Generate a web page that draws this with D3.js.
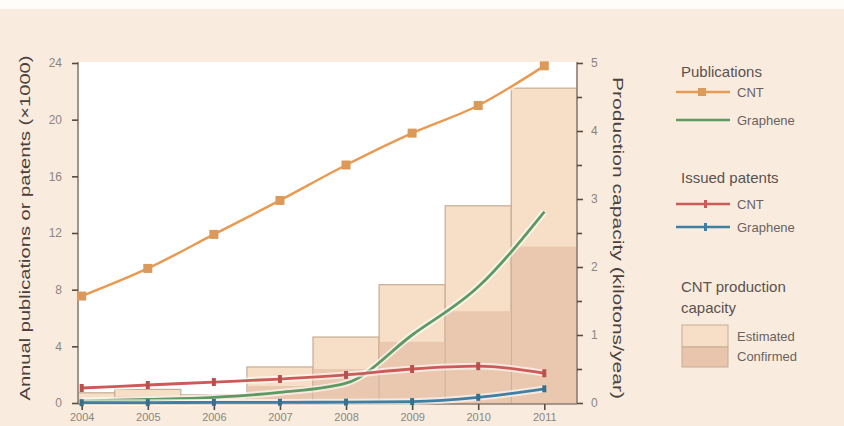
<!DOCTYPE html>
<html>
<head>
<meta charset="utf-8">
<style>
  body { margin: 0; background: #f9ecde; }
  svg { display: block; font-family: "Liberation Sans", Arial, sans-serif; }
</style>
</head>
<body>
<div id="chart"></div>
<script src="https://cdn.jsdelivr.net/npm/d3@7"></script>
<script>
// data
var years = [2004, 2005, 2006, 2007, 2008, 2009, 2010, 2011];
var cntPubs      = [7.55, 9.5, 11.9, 14.3, 16.8, 19.05, 21.0, 23.8];
var graphenePubs = [0.15, 0.25, 0.4, 0.75, 1.4, 4.8, 8.2, 13.5];
var cntPatents   = [1.06, 1.27, 1.48, 1.69, 1.98, 2.4, 2.6, 2.1];
var graphenePatents = [0.02, 0.03, 0.04, 0.05, 0.06, 0.1, 0.4, 1.0];
var estimatedCap = [0.15, 0.2, 0.12, 0.53, 0.97, 1.74, 2.9, 4.63];
var confirmedCap = [0.05, 0.1, 0.1, 0.25, 0.5, 0.9, 1.35, 2.3];
var leftTicks = [0, 4, 8, 12, 16, 20, 24];
var rightTicks = [0, 1, 2, 3, 4, 5];

var W = 844, H = 426;
var pLeft = 78, pRight = 577, pTop = 62, pBottom = 404;

var svg = d3.select("#chart").append("svg")
    .attr("width", W).attr("height", H);

// top white band
svg.append("rect").attr("x", 0).attr("y", 0).attr("width", W).attr("height", 9).attr("fill", "#fffdf9");

var x = d3.scaleLinear().domain([2004, 2011]).range([81.7, 544.3]);
var yL = d3.scaleLinear().domain([0, 24]).range([pBottom - 1, pTop + 1]);
var yR = d3.scaleLinear().domain([0, 5]).range([pBottom - 1, pTop + 1]);

// plot area
svg.append("rect").attr("x", pLeft).attr("y", pTop).attr("width", pRight - pLeft).attr("height", pBottom - pTop)
    .attr("fill", "#ffffff");

svg.append("clipPath").attr("id", "clip").append("rect")
    .attr("x", pLeft).attr("y", pTop - 10).attr("width", pRight - pLeft).attr("height", pBottom - pTop + 10);

var step = x(2005) - x(2004);
var bars = svg.append("g").attr("clip-path", "url(#clip)");

// estimated capacity
bars.selectAll(".est").data(years).enter().append("rect")
    .attr("class", "est")
    .attr("x", d => x(d) - step / 2)
    .attr("width", step)
    .attr("y", (d, i) => yR(estimatedCap[i]))
    .attr("height", (d, i) => yR(0) - yR(estimatedCap[i]))
    .attr("fill", "#f6dfc6")
    .attr("stroke", "#c9ab95").attr("stroke-width", 1.2);

// confirmed capacity
bars.selectAll(".conf").data(years).enter().append("rect")
    .attr("class", "conf")
    .attr("x", d => x(d) - step / 2 + 0.6)
    .attr("width", step - 1.2)
    .attr("y", (d, i) => yR(confirmedCap[i]))
    .attr("height", (d, i) => yR(0) - yR(confirmedCap[i]))
    .attr("fill", "#e9c5ad").attr("opacity", 0.9);

// axes
var axisColor = "#8c7c72";
var gL = svg.append("g").attr("transform", "translate(" + pLeft + ",0)")
    .call(d3.axisLeft(yL).tickValues(leftTicks).tickSize(6).tickPadding(10));
var gR = svg.append("g").attr("transform", "translate(" + pRight + ",0)")
    .call(d3.axisRight(yR).tickValues(rightTicks).tickFormat(d3.format("d")).tickSize(6).tickPadding(8));
svg.append("g").attr("transform", "translate(" + pRight + ",0)")
    .call(d3.axisRight(yR).tickValues([0.5, 1.5, 2.5, 3.5, 4.5]).tickSize(5).tickFormat(""))
    .select(".domain").remove();
var gX = svg.append("g").attr("transform", "translate(0," + pBottom + ")")
    .call(d3.axisBottom(x).tickValues(years).tickFormat(d3.format("d")).tickSize(6).tickPadding(3));

[gL, gR, gX].forEach(function(g) {
  g.select(".domain").attr("stroke", axisColor).attr("stroke-width", 1.6);
  g.selectAll(".tick text").attr("fill", "#8a8580").style("font-size", "12px");
});
gX.selectAll(".tick text").style("font-size", "11px");
svg.selectAll(".tick line").attr("stroke", "#5a4a40").attr("stroke-width", 1.6);
gX.select(".domain").attr("d", "M" + pLeft + ",0H" + pRight);
gL.select(".domain").attr("d", "M0," + pTop + "V" + pBottom);
gR.select(".domain").attr("d", "M0," + pTop + "V" + pBottom);

// lines
var line = d3.line().x((d, i) => x(years[i])).y(d => yL(d)).curve(d3.curveMonotoneX);
var series = [
  {vals: cntPubs, color: "#e99a52", w: 2.5},
  {vals: graphenePubs, color: "#5d9a62", w: 2.8},
  {vals: cntPatents, color: "#cc5a58", w: 2.8},
  {vals: graphenePatents, color: "#3e7fa3", w: 2.8}
];
series.forEach(function(s) {
  svg.append("path").datum(s.vals).attr("d", line)
    .attr("fill", "none").attr("stroke", "#ffffff").attr("stroke-opacity", 0.6).attr("stroke-width", s.w + 4);
  svg.append("path").datum(s.vals).attr("d", line)
    .attr("fill", "none").attr("stroke", s.color).attr("stroke-width", s.w);
});

// markers
svg.selectAll(".sq").data(cntPubs).enter().append("rect")
    .attr("x", (d, i) => x(years[i]) - 4.5).attr("y", d => yL(d) - 4.5)
    .attr("width", 9).attr("height", 9).attr("fill", "#dc9a5a");
svg.selectAll(".rt").data(cntPatents).enter().append("rect")
    .attr("x", (d, i) => x(years[i]) - 2).attr("y", d => yL(d) - 4)
    .attr("width", 4).attr("height", 8).attr("fill", "#b8504e");
svg.selectAll(".bt").data(graphenePatents).enter().append("rect")
    .attr("x", (d, i) => x(years[i]) - 2).attr("y", d => yL(d) - 3.5)
    .attr("width", 4).attr("height", 7).attr("fill", "#35708f");

// axis titles
svg.append("text")
    .attr("transform", "translate(30,228) rotate(-90)")
    .attr("text-anchor", "middle").attr("fill", "#4a403c")
    .style("font-size", "14px").attr("textLength", 345).attr("lengthAdjust", "spacingAndGlyphs")
    .text("Annual publications or patents (\u00d71000)");
svg.append("text")
    .attr("transform", "translate(613,238) rotate(90)")
    .attr("text-anchor", "middle").attr("fill", "#4a403c")
    .style("font-size", "14px").attr("textLength", 322).attr("lengthAdjust", "spacingAndGlyphs")
    .text("Production capacity (kilotons/year)");

// legend
var lg = svg.append("g");
function head(t, y) {
  lg.append("text").attr("x", 681).attr("y", y).style("font-size", "15px").attr("fill", "#5a5250").text(t);
}
function item(t, y, color, marker) {
  lg.append("line").attr("x1", 676).attr("x2", 730).attr("y1", y).attr("y2", y)
    .attr("stroke", color).attr("stroke-width", 2.5);
  if (marker == "sq") lg.append("rect").attr("x", 698).attr("y", y - 4).attr("width", 8).attr("height", 8).attr("fill", "#dc9a5a");
  if (marker == "tick") lg.append("rect").attr("x", 704).attr("y", y - 4).attr("width", 3).attr("height", 8).attr("fill", color);
  lg.append("text").attr("x", 737).attr("y", y + 5).style("font-size", "13px").attr("fill", "#6a625e").text(t);
}
head("Publications", 77);
item("CNT", 92, "#e99a52", "sq");
item("Graphene", 120, "#5d9a62", null);
head("Issued patents", 183);
item("CNT", 204, "#cc5a58", "tick");
item("Graphene", 227, "#3e7fa3", "tick");
head("CNT production", 292);
head("capacity", 313);
lg.append("rect").attr("x", 682).attr("y", 325).attr("width", 46).attr("height", 22)
    .attr("fill", "#f6dfc6").attr("stroke", "#c9ab95").attr("stroke-width", 1);
lg.append("rect").attr("x", 682).attr("y", 347).attr("width", 46).attr("height", 20)
    .attr("fill", "#e9c5ad").attr("stroke", "#c9ab95").attr("stroke-width", 1);
lg.append("text").attr("x", 737).attr("y", 341).style("font-size", "13px").attr("fill", "#6a625e").text("Estimated");
lg.append("text").attr("x", 737).attr("y", 361).style("font-size", "13px").attr("fill", "#6a625e").text("Confirmed");
</script>
</body>
</html>
